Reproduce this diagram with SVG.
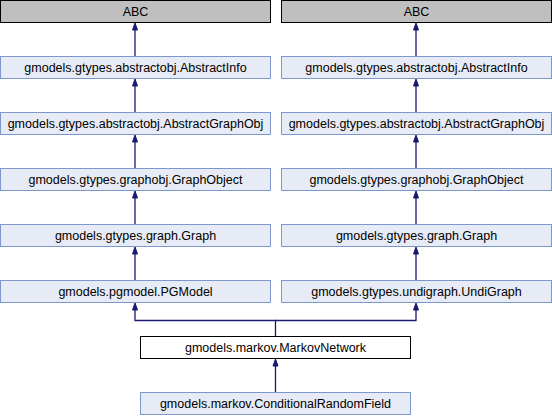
<svg xmlns="http://www.w3.org/2000/svg" width="552" height="416" viewBox="0 0 552 416">
<style>
text{font-family:"Liberation Sans",Arial,sans-serif;font-size:12.5px;text-anchor:middle;fill:#000}
.n rect{fill:#e7ebf5;stroke:#7c97cc;stroke-width:1}
.g rect{fill:#bfbfbf;stroke:#000;stroke-width:1}
.m rect{fill:#fff;stroke:#000;stroke-width:1}
.e{fill:none;stroke:#191970;stroke-width:1.3}
.h{fill:#191970;stroke:#191970;stroke-width:1}
</style>
<rect width="552" height="416" fill="#fff"/>
<g id="connectors">
<path class="e" d="M135,56.5V30"/><polygon class="h" points="135,23 132.5,30 137.5,30"/>
<path class="e" d="M135,112.5V86"/><polygon class="h" points="135,79 132.5,86 137.5,86"/>
<path class="e" d="M135,168.5V142"/><polygon class="h" points="135,135 132.5,142 137.5,142"/>
<path class="e" d="M135,224.5V198"/><polygon class="h" points="135,191 132.5,198 137.5,198"/>
<path class="e" d="M135,280.5V254"/><polygon class="h" points="135,247 132.5,254 137.5,254"/>
<path class="e" d="M416,56.5V30"/><polygon class="h" points="416,23 413.5,30 418.5,30"/>
<path class="e" d="M416,112.5V86"/><polygon class="h" points="416,79 413.5,86 418.5,86"/>
<path class="e" d="M416,168.5V142"/><polygon class="h" points="416,135 413.5,142 418.5,142"/>
<path class="e" d="M416,224.5V198"/><polygon class="h" points="416,191 413.5,198 418.5,198"/>
<path class="e" d="M416,280.5V254"/><polygon class="h" points="416,247 413.5,254 418.5,254"/>
<path class="e" d="M275.5,336.5V320.5H135V310"/><polygon class="h" points="135,303 132.5,310 137.5,310"/>
<path class="e" d="M275.5,320.5H416V310"/><polygon class="h" points="416,303 413.5,310 418.5,310"/>
<path class="e" d="M275.5,392.5V366"/><polygon class="h" points="275.5,359 273,366 278,366"/>
</g>
<g id="abc_l" class="g"><rect x="0.5" y="0.5" width="270" height="22"/><text x="135.5" y="16">ABC</text></g>
<g id="abstractinfo_l" class="n"><rect x="0.5" y="56.5" width="270" height="22"/><text x="135.5" y="72">gmodels.gtypes.abstractobj.AbstractInfo</text></g>
<g id="abstractgraphobj_l" class="n"><rect x="0.5" y="112.5" width="270" height="22"/><text x="135.5" y="128">gmodels.gtypes.abstractobj.AbstractGraphObj</text></g>
<g id="graphobject_l" class="n"><rect x="0.5" y="168.5" width="270" height="22"/><text x="135.5" y="184">gmodels.gtypes.graphobj.GraphObject</text></g>
<g id="graph_l" class="n"><rect x="0.5" y="224.5" width="270" height="22"/><text x="135.5" y="240">gmodels.gtypes.graph.Graph</text></g>
<g id="pgmodel" class="n"><rect x="0.5" y="280.5" width="270" height="22"/><text x="135.5" y="296">gmodels.pgmodel.PGModel</text></g>
<g id="abc_r" class="g"><rect x="281.5" y="0.5" width="270" height="22"/><text x="416.5" y="16">ABC</text></g>
<g id="abstractinfo_r" class="n"><rect x="281.5" y="56.5" width="270" height="22"/><text x="416.5" y="72">gmodels.gtypes.abstractobj.AbstractInfo</text></g>
<g id="abstractgraphobj_r" class="n"><rect x="281.5" y="112.5" width="270" height="22"/><text x="416.5" y="128">gmodels.gtypes.abstractobj.AbstractGraphObj</text></g>
<g id="graphobject_r" class="n"><rect x="281.5" y="168.5" width="270" height="22"/><text x="416.5" y="184">gmodels.gtypes.graphobj.GraphObject</text></g>
<g id="graph_r" class="n"><rect x="281.5" y="224.5" width="270" height="22"/><text x="416.5" y="240">gmodels.gtypes.graph.Graph</text></g>
<g id="undigraph" class="n"><rect x="281.5" y="280.5" width="270" height="22"/><text x="416.5" y="296">gmodels.gtypes.undigraph.UndiGraph</text></g>
<g id="markovnetwork" class="m"><rect x="140.5" y="336.5" width="270" height="22"/><text x="275.5" y="352">gmodels.markov.MarkovNetwork</text></g>
<g id="crf" class="n"><rect x="140.5" y="392.5" width="270" height="22"/><text x="275.5" y="408">gmodels.markov.ConditionalRandomField</text></g>
</svg>
